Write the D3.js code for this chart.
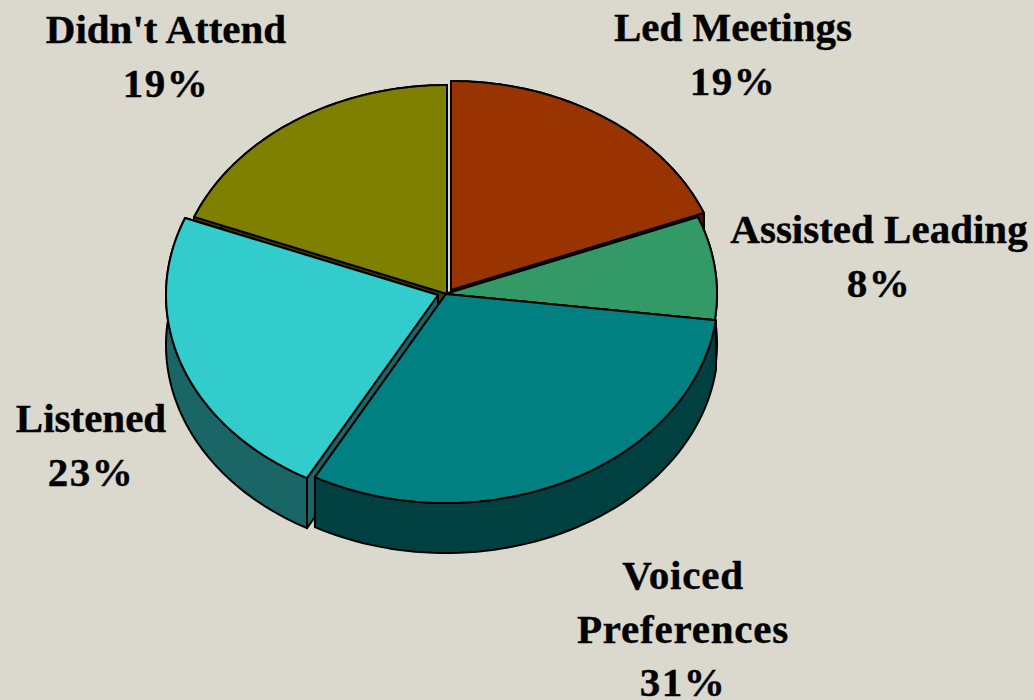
<!DOCTYPE html>
<html>
<head>
<meta charset="utf-8">
<title>Participation pie</title>
<script src="https://cdn.jsdelivr.net/npm/d3@7"></script>
<style>
    html, body { margin: 0; padding: 0; background: #dbd9cd; overflow: hidden; }
    svg { display: block; }
    text { font-family: "Liberation Serif", serif; font-weight: 700; font-size: 41px; fill: #000; stroke: #000; stroke-width: 0.4px; }
</style>
</head>
<body>
<div id="chart"></div>
<script>
// Clockwise from twelve o'clock
var categories = ["Led Meetings", "Assisted Leading", "Voiced Preferences", "Listened", "Didn't Attend"];
var percents = [19, 8, 31, 23, 19];

var width = 1034, height = 700;
var rx = 272, ry = 209, depth = 50;

// Every slice has its own apex, the pie is slightly exploded
var topColors = ["#993300", "#339966", "#008080", "#33cccc", "#808000"];
var wallColors = ["#4d1a00", "#1a4d33", "#004040", "#1a6666", "#404000"];
var apexes = [[451, 290], [445, 294], [446, 294], [438, 295], [447, 294]];

// Label centre x and the baseline of each line
var labelLines = [["Led Meetings"], ["Assisted Leading"], ["Voiced", "Preferences"], ["Listened"], ["Didn't Attend"]];
var labelX = [733, 879, 683, 91, 166];
var labelY = [41, 243, 589, 432, 43];
var labelSpacing = [0, 0, 0.8, 0, 0];
var percentSpacing = 1.5;
var lineGap = 53.5;

var svg = d3.select("#chart")
    .append("svg")
    .attr("width", width)
    .attr("height", height);

svg.append("rect")
    .attr("width", width)
    .attr("height", height)
    .attr("fill", "#dbd9cd");

var pie = d3.pie().sort(null);
var slices = pie(percents).map(function (d, i) {
    return {
        index: i,
        startAngle: d.startAngle,
        endAngle: d.endAngle,
        apex: apexes[i]
    };
});

var line = d3.line();

// Point of the tilted pie's rim for a given angle
function rimPoint(d, angle, drop) {
    return [
        d.apex[0] + rx * Math.sin(angle),
        d.apex[1] - ry * Math.cos(angle) + drop
    ];
}

function rimPoints(d, drop) {
    let steps = 60;
    return d3.range(steps + 1).map(function (k) {
        let angle = d.startAngle + (d.endAngle - d.startAngle) * k / steps;
        return rimPoint(d, angle, drop);
    });
}

function topPath(d) {
    return line([d.apex].concat(rimPoints(d, 0))) + "Z";
}

function outerWallPath(d) {
    return line(rimPoints(d, 0).concat(rimPoints(d, depth).reverse())) + "Z";
}

function cutFacePath(d, angle) {
    return line([
        d.apex,
        rimPoint(d, angle, 0),
        rimPoint(d, angle, depth),
        [d.apex[0], d.apex[1] + depth]
    ]) + "Z";
}

// Back slices first so the front ones cover them
var drawOrder = [4, 0, 1, 3, 2];

var groups = svg.append("g")
    .selectAll("g")
    .data(drawOrder.map(function (i) { return slices[i]; }))
    .enter()
    .append("g")
    .attr("stroke", "#000")
    .attr("stroke-width", 2)
    .attr("stroke-linejoin", "round");

// End face first: the start face is the one seen in the gaps on the left side
groups.append("path")
    .attr("d", function (d) { return cutFacePath(d, d.endAngle); })
    .attr("fill", function (d) { return wallColors[d.index]; });

groups.append("path")
    .attr("d", function (d) { return cutFacePath(d, d.startAngle); })
    .attr("fill", function (d) { return wallColors[d.index]; });

groups.append("path")
    .attr("d", outerWallPath)
    .attr("fill", function (d) { return wallColors[d.index]; });

groups.append("path")
    .attr("d", topPath)
    .attr("fill", function (d) { return topColors[d.index]; });

// Labels
var labels = svg.append("g")
    .selectAll("text")
    .data(categories)
    .enter()
    .append("text")
    .attr("text-anchor", "middle")
    .attr("y", function (d, i) { return labelY[i]; });

labels.each(function (d, i) {
    let rows = labelLines[i].concat([percents[i] + "%"]);
    d3.select(this)
        .selectAll("tspan")
        .data(rows)
        .enter()
        .append("tspan")
        .attr("x", labelX[i])
        .attr("dy", function (r, k) { return k === 0 ? 0 : lineGap; })
        .attr("letter-spacing", function (r, k) { return k === rows.length - 1 ? percentSpacing : labelSpacing[i]; })
        .text(function (r) { return r; });
});
</script>
</body>
</html>
